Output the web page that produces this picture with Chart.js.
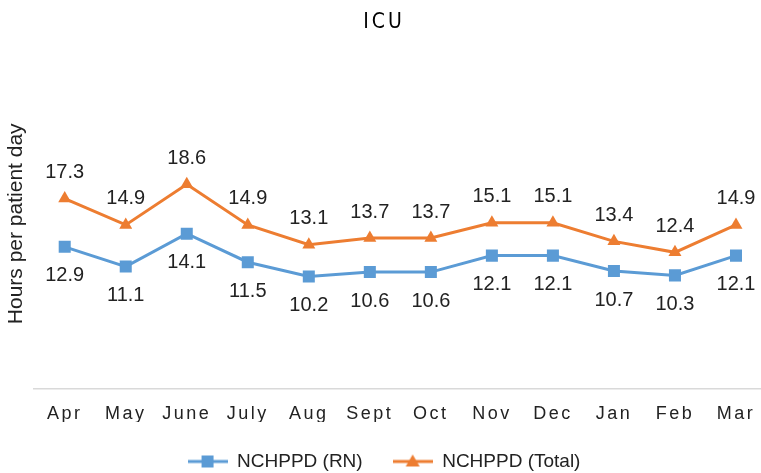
<!DOCTYPE html>
<html>
<head>
<meta charset="utf-8">
<script src="https://cdn.jsdelivr.net/npm/chart.js@4.4.0/dist/chart.umd.min.js"></script>
<style>
  html, body { margin: 0; padding: 0; background: #fff; overflow: hidden; }
  #wrap { width: 775px; height: 473px; }
</style>
</head>
<body>
<div id="wrap"><canvas id="myChart" width="775" height="473"></canvas></div>
<script>
// chart data
const months = ['Apr', 'May', 'June', 'July', 'Aug', 'Sept', 'Oct', 'Nov', 'Dec', 'Jan', 'Feb', 'Mar'];
const rnHours = [12.9, 11.1, 14.1, 11.5, 10.2, 10.6, 10.6, 12.1, 12.1, 10.7, 10.3, 12.1];
const totalHours = [17.3, 14.9, 18.6, 14.9, 13.1, 13.7, 13.7, 15.1, 15.1, 13.4, 12.4, 14.9];

const blue = '#5B9BD5';
const orange = '#ED7D31';
const textColor = '#222';

// little line+marker icon for the legend, like excel does it
function legendIcon(color, shape) {
    const c = document.createElement('canvas');
    c.width = 40; c.height = 16;
    const g = c.getContext('2d');
    g.strokeStyle = color;
    g.lineWidth = 3;
    g.beginPath();
    g.moveTo(0, 8); g.lineTo(40, 8);
    g.stroke();
    g.fillStyle = color;
    if (shape === 'rect') {
        g.fillRect(14, 2, 12, 12);
    } else {
        g.beginPath();
        g.moveTo(20, 1); g.lineTo(27, 13); g.lineTo(13, 13);
        g.closePath();
        g.fill();
    }
    return c;
}

// value labels: total above, RN below
const valueLabels = {
    id: 'valueLabels',
    afterDatasetsDraw(chart) {
        const ctx = chart.ctx;
        ctx.save();
        ctx.font = '20px "Liberation Sans", Arial, sans-serif';
        ctx.fillStyle = textColor;
        ctx.textAlign = 'center';
        ctx.textBaseline = 'middle';
        chart.data.datasets.forEach(function (ds, i) {
            const meta = chart.getDatasetMeta(i);
            meta.data.forEach(function (pt, j) {
                const dy = i === 0 ? 29 : -26;
                ctx.fillText(ds.data[j].toFixed(1), pt.x, pt.y + dy);
            });
        });
        ctx.restore();
    }
};

// spaced out letters for the title and month labels
const spacing = {
    id: 'spacing',
    beforeDraw(chart) {
        const ctx = chart.ctx;
        const sc = chart.scales.x;
        if (sc && !sc._spaced) {
            const orig = sc.drawLabels.bind(sc);
            sc.drawLabels = function (area) {
                ctx.save();
                ctx.letterSpacing = '2.5px';
                orig(area);
                ctx.restore();
            };
            sc._spaced = true;
        }
        const tb = chart.titleBlock;
        if (tb && !tb._spaced) {
            const origT = tb.draw.bind(tb);
            tb.draw = function () {
                ctx.save();
                ctx.letterSpacing = '3px';
                origT();
                ctx.restore();
            };
            tb._spaced = true;
        }
    }
};

const ctx = document.getElementById('myChart').getContext('2d');
const myChart = new Chart(ctx, {
    type: 'line',
    data: {
        labels: months,
        datasets: [
            {
                label: 'NCHPPD (RN)',
                data: rnHours,
                borderColor: blue,
                backgroundColor: blue,
                borderWidth: 3,
                pointStyle: 'rect',
                pointRadius: 8.5,
                pointHoverRadius: 8.5,
                pointBorderWidth: 0,
                tension: 0
            },
            {
                label: 'NCHPPD (Total)',
                data: totalHours,
                borderColor: orange,
                backgroundColor: orange,
                borderWidth: 3,
                pointStyle: 'triangle',
                pointRadius: 7.5,
                pointHoverRadius: 7.5,
                pointBorderWidth: 0,
                tension: 0
            }
        ]
    },
    options: {
        responsive: false,
        animation: false,
        layout: {
            padding: { left: 0, right: 7, top: 0, bottom: -8 }
        },
        plugins: {
            title: {
                display: true,
                text: 'ICU',
                color: '#000',
                font: { family: '"Liberation Sans Narrow", "DejaVu Sans Condensed", sans-serif', size: 21, weight: 'normal' },
                padding: { top: 10, bottom: 24 }
            },
            legend: {
                position: 'bottom',
                labels: {
                    usePointStyle: true,
                    pointStyleWidth: 40,
                    color: textColor,
                    font: { family: '"Liberation Sans", Arial, sans-serif', size: 19 },
                    padding: 30,
                    generateLabels(chart) {
                        return chart.data.datasets.map(function (ds, i) {
                            return {
                                text: ds.label,
                                fillStyle: ds.borderColor,
                                strokeStyle: ds.borderColor,
                                fontColor: textColor,
                                pointStyle: legendIcon(ds.borderColor, i === 0 ? 'rect' : 'tri'),
                                datasetIndex: i,
                                hidden: false
                            };
                        });
                    }
                }
            },
            tooltip: { enabled: false }
        },
        scales: {
            x: {
                offset: true,
                grid: { display: true, drawOnChartArea: false, drawTicks: false },
                border: { display: true, color: '#d9d9d9', width: 1.5 },
                ticks: {
                    color: textColor,
                    padding: 15,
                    maxRotation: 0,
                    autoSkip: false,
                    font: { family: '"Liberation Sans", Arial, sans-serif', size: 18 }
                },
                afterFit(scale) {
                    scale.height -= 18;
                }
            },
            y: {
                min: 0,
                max: 30,
                grid: { display: false, drawTicks: false },
                border: { display: false },
                ticks: { display: false },
                title: {
                    display: true,
                    text: 'Hours per patient day',
                    color: textColor,
                    font: { family: '"Liberation Sans", Arial, sans-serif', size: 21 },
                    padding: { top: 4, bottom: 5 }
                }
            }
        }
    },
    plugins: [valueLabels, spacing]
});
</script>
</body>
</html>
